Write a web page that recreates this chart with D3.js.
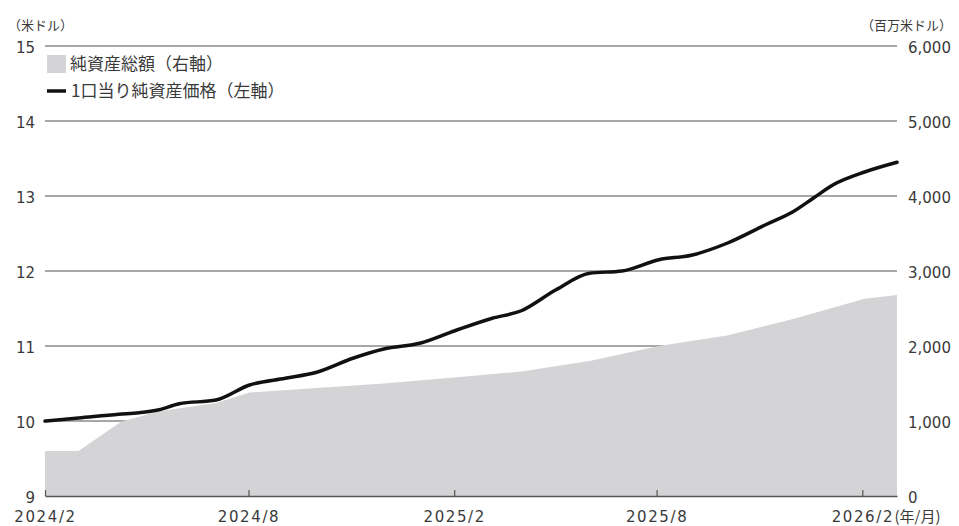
<!DOCTYPE html>
<html><head><meta charset="utf-8">
<script src="https://cdn.jsdelivr.net/npm/d3@7"></script>
<style>html,body{margin:0;padding:0;background:#fff;}svg{display:block;}</style>
</head><body>
<svg id="c" width="959" height="526"></svg>
<script>
// ---- data ----
const navDates = ["2024-02-01","2024-03-02","2024-04-07","2024-04-25","2024-05-13","2024-05-31","2024-07-03","2024-08-02","2024-09-03","2024-10-01","2024-11-03","2024-11-30","2025-01-02","2025-02-01","2025-03-07","2025-04-02","2025-05-03","2025-06-02","2025-07-01","2025-08-03","2025-09-01","2025-10-03","2025-11-07","2025-12-01","2025-12-19","2026-01-06","2026-02-03","2026-03-04"];
const navValues = [10.00,10.04,10.09,10.11,10.15,10.23,10.28,10.48,10.57,10.65,10.84,10.96,11.04,11.20,11.37,11.47,11.75,11.97,12.00,12.15,12.21,12.37,12.62,12.79,12.97,13.15,13.32,13.45];
const assetDates = ["2024-02-01","2024-03-02","2024-04-09","2024-05-13","2024-07-03","2024-08-02","2024-10-01","2024-11-30","2025-02-01","2025-04-02","2025-06-02","2025-08-03","2025-10-03","2025-12-01","2026-02-03","2026-03-04"];
const assetValues = [600,600,990,1130,1240,1380,1440,1500,1580,1660,1800,2000,2140,2360,2630,2680];
const xTickDates = ["2024-02-01","2024-08-01","2025-02-01","2025-08-01","2026-02-01"];
const xTickLabels = ["2024/2","2024/8","2025/2","2025/8","2026/2"];
const leftTicks = [9,10,11,12,13,14,15];
const rightTicks = [0,1000,2000,3000,4000,5000,6000];

const parse = d3.timeParse("%Y-%m-%d");
const nav = navDates.map((d,i)=>({d:parse(d), v:navValues[i]}));
const assets = assetDates.map((d,i)=>({d:parse(d), v:assetValues[i]}));

const L=45, R=897, T=46, B=496;
const svg = d3.select("#c");
const x = d3.scaleTime().domain([parse("2024-02-01"), parse("2026-03-04")]).range([L,R]);
const yL = d3.scaleLinear().domain([9,15]).range([B,T]);
const yR = d3.scaleLinear().domain([0,6000]).range([B,T]);
const numFont = "'DejaVu Sans', sans-serif";
const jpFont = "'Noto Sans CJK JP', sans-serif";
const txt = "#3a3a3a";

// gridlines
svg.append("g").selectAll("line").data(leftTicks.slice(1)).join("line")
  .attr("x1",L).attr("x2",R).attr("y1",d=>yL(d)).attr("y2",d=>yL(d))
  .attr("stroke","#8a8a8a").attr("stroke-width",1.6);

// area
svg.append("path").datum(assets)
  .attr("d", d3.area().x(d=>x(d.d)).y0(yR(0)).y1(d=>yR(d.v)).curve(d3.curveLinear))
  .attr("fill","#d4d4d6");

// bottom axis
const xAxis = d3.axisBottom(x).tickValues(xTickDates.map(parse)).tickSize(-6).tickFormat((d,i)=>xTickLabels[i]).tickSizeOuter(0);
const gx = svg.append("g").attr("transform",`translate(0,${B})`).call(xAxis);
gx.select(".domain").attr("stroke","#555").attr("stroke-width",1.5);
gx.selectAll(".tick line").attr("stroke","#555").attr("stroke-width",1.2);
gx.selectAll(".tick text").attr("font-family",numFont).attr("font-size",15).attr("letter-spacing",1.6)
  .attr("fill",txt).attr("dy",0).attr("y",26);
// unit after last tick label
const lastTick = gx.selectAll(".tick").filter((d,i)=>i===xTickLabels.length-1);
const lastText = lastTick.select("text").node();
const w = lastText.getComputedTextLength();
svg.append("text").attr("x", x(parse(xTickDates[xTickDates.length-1])) + w/2 + 1).attr("y", B+26)
  .attr("font-family",jpFont).attr("font-size",15).attr("fill",txt).text("(年/月)");

// left axis
const yAxisL = d3.axisLeft(yL).tickValues(leftTicks).tickSize(0).tickPadding(10).tickFormat(d3.format("d"));
const gl = svg.append("g").attr("transform",`translate(${L},0)`).call(yAxisL);
gl.select(".domain").remove();
gl.selectAll(".tick text").attr("font-family",numFont).attr("font-size",15).attr("fill",txt).attr("dy","0.4em");

// right axis
const yAxisR = d3.axisRight(yR).tickValues(rightTicks).tickSize(0).tickPadding(11).tickFormat(d3.format(","));
const gr = svg.append("g").attr("transform",`translate(${R},0)`).call(yAxisR);
gr.select(".domain").remove();
gr.selectAll(".tick text").attr("font-family",numFont).attr("font-size",15).attr("fill",txt).attr("dy","0.4em");

// line
svg.append("path").datum(nav)
  .attr("d", d3.line().x(d=>x(d.d)).y(d=>yL(d.v)).curve(d3.curveMonotoneX))
  .attr("fill","none").attr("stroke","#111").attr("stroke-width",3.5).attr("stroke-linejoin","round").attr("stroke-linecap","round");

// unit labels
svg.append("text").attr("x",8).attr("y",30).attr("font-family",jpFont).attr("font-size",13).attr("fill",txt).text("（米ドル）");
svg.append("text").attr("x",952).attr("y",30).attr("text-anchor","end").attr("font-family",jpFont).attr("font-size",13).attr("fill",txt).text("（百万米ドル）");

// legend
svg.append("rect").attr("x",47).attr("y",55).attr("width",19).attr("height",18).attr("fill","#d4d4d6");
svg.append("text").attr("x",70).attr("y",70).attr("font-family",jpFont).attr("font-size",17).attr("fill",txt).text("純資産総額（右軸）");
svg.append("line").attr("x1",47).attr("x2",66).attr("y1",91).attr("y2",91).attr("stroke","#111").attr("stroke-width",3.5);
svg.append("text").attr("x",71).attr("y",97).attr("font-family",jpFont).attr("font-size",17).attr("fill",txt).text("1口当り純資産価格（左軸）");
</script>
</body></html>
